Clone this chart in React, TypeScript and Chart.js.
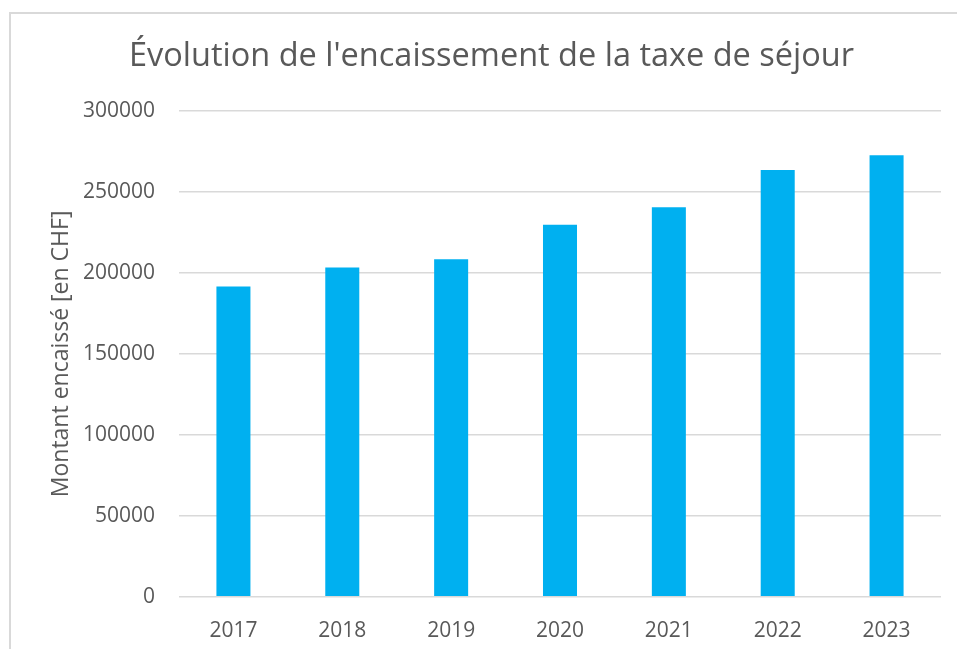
import React, { useEffect, useRef } from "react";
import { Chart, registerables } from "chart.js";

Chart.register(...registerables);

const TITLE = "Évolution de l'encaissement de la taxe de séjour";
const Y_TITLE = "Montant encaissé [en CHF]";
const years = ["2017", "2018", "2019", "2020", "2021", "2022", "2023"];
const amounts = [191600, 203400, 208500, 229800, 240500, 263600, 272700];
const yMin = 0;
const yMax = 300000;
const yStep = 50000;

const TEXT = "#595959";
const GRID = "#d9d9d9";
const BAR = "#00B0F0";
const FONT = "'Open Sans', 'Noto Sans', sans-serif";

export default function App() {
  const ref = useRef<HTMLCanvasElement | null>(null);

  useEffect(() => {
    document.body.style.margin = "0";
    if (!ref.current) return;
    const chart = new Chart(ref.current, {
      type: "bar",
      data: {
        labels: years,
        datasets: [
          {
            data: amounts,
            backgroundColor: BAR,
            borderWidth: 0,
            categoryPercentage: 1,
            barPercentage: 0.3125,
          },
        ],
      },
      options: {
        animation: false,
        responsive: false,
        maintainAspectRatio: false,
        layout: { padding: { left: 42, right: 16, top: 0, bottom: -17 } },
        plugins: {
          legend: { display: false },
          tooltip: { enabled: false },
          title: {
            display: true,
            text: TITLE,
            color: TEXT,
            font: { family: FONT, size: 32.5, weight: "normal" },
            padding: { top: 37.5, bottom: 34.5 },
          },
        },
        scales: {
          x: {
            grid: { display: false, drawTicks: false },
            border: { display: false },
            ticks: {
              color: TEXT,
              font: { family: FONT, size: 21 },
              padding: 22,
              maxRotation: 0,
            },
          },
          y: {
            min: yMin,
            max: yMax,
            afterFit: (scale: any) => {
              scale.width = 137;
            },
            grid: { color: GRID, lineWidth: 1.5, drawTicks: false },
            border: { display: false },
            ticks: {
              stepSize: yStep,
              color: TEXT,
              font: { family: FONT, size: 21 },
              padding: 24,
              callback: (v: any) => String(v),
            },
            title: {
              display: true,
              text: Y_TITLE,
              color: TEXT,
              font: { family: FONT, size: 23 },
              padding: { top: 6, bottom: 0 },
            },
          },
        },
      },
    });
    return () => chart.destroy();
  }, []);

  return (
    <div style={{ position: "fixed", left: 0, top: 0, width: 957, height: 649, background: "#fff" }}>
      <canvas ref={ref} width={957} height={649} style={{ position: "absolute", left: 0, top: 0 }} />
      <div
        style={{
          position: "absolute",
          left: 9,
          top: 12,
          width: 960,
          height: 660,
          border: `2px solid ${GRID}`,
          boxSizing: "border-box",
          pointerEvents: "none",
        }}
      />
    </div>
  );
}
